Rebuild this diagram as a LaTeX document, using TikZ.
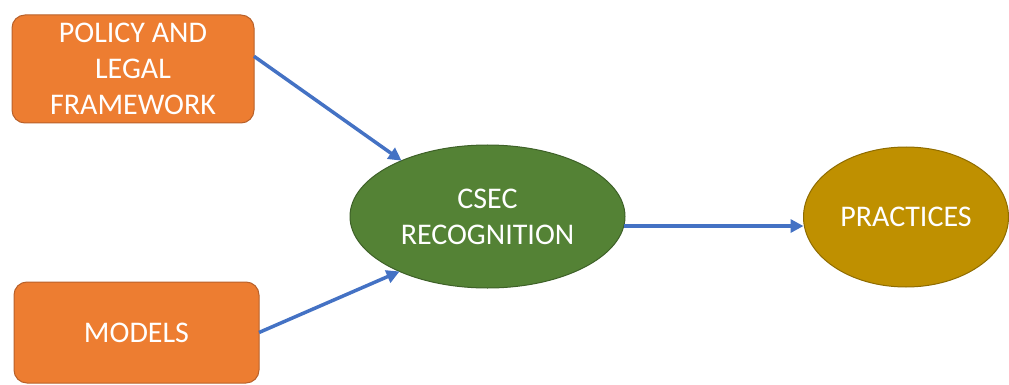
\documentclass[tikz,border=0pt]{standalone}
\usepackage{fontspec}
\setmainfont{Carlito}
\usetikzlibrary{arrows.meta,shapes.geometric}
\definecolor{boxorange}{HTML}{ED7D31}
\definecolor{boxborder}{HTML}{B9612A}
\definecolor{ellgreen}{HTML}{548235}
\definecolor{ellgreenb}{HTML}{3E6128}
\definecolor{ellgold}{HTML}{BF9000}
\definecolor{ellgoldb}{HTML}{8F6C00}
\definecolor{arrowblue}{HTML}{4472C4}
\begin{document}
\begin{tikzpicture}[x=1pt,y=-1pt,
  lbl/.style={text=white,font=\fontsize{30}{36}\selectfont,align=center,inner sep=0pt,outer sep=0pt},
  obox/.style={lbl,rectangle,rounded corners=13pt,fill=boxorange,draw=boxborder,line width=1pt},
  gell/.style={lbl,ellipse,fill=ellgreen,draw=ellgreenb,line width=1pt},
  yell/.style={lbl,ellipse,fill=ellgold,draw=ellgoldb,line width=1pt},
  conn/.style={draw=arrowblue,line width=3.5pt,-{Triangle[length=13pt,width=13pt]}}]
\useasboundingbox (0,0) rectangle (1009,385);
\node[obox,minimum width=242pt,minimum height=108pt] (p) at (133,69) {POLICY AND\\LEGAL\\FRAMEWORK};
\node[obox,minimum width=245pt,minimum height=101pt] (m) at (136.5,332.5) {MODELS};
\node[gell,minimum width=275pt,minimum height=143pt] (c) at (487.5,216.5) {CSEC\\RECOGNITION};
\node[yell,minimum width=205pt,minimum height=140pt] (g) at (906,217) {PRACTICES};
\draw[conn] (p.6) -- (c.147);
\draw[conn] (m.east) -- (c.212);
\draw[conn] (c.-4) -- (c.-4 -| g.west);
\end{tikzpicture}
\end{document}
